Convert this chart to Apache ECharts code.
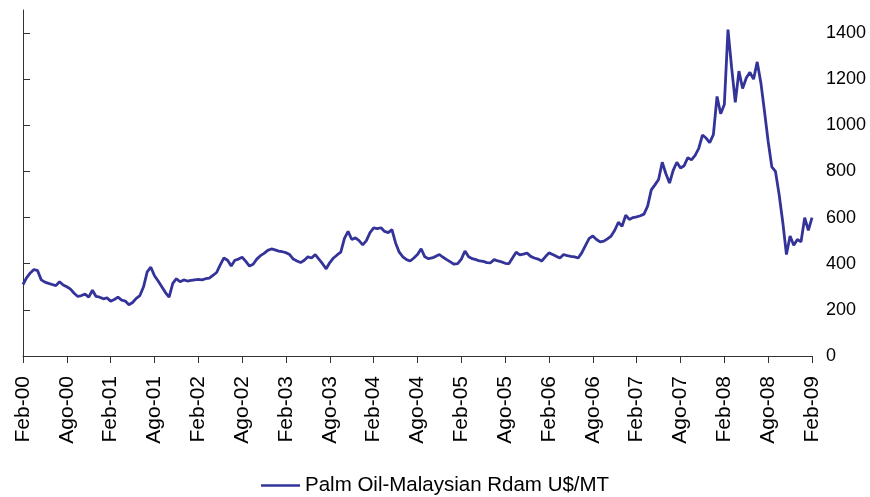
<!DOCTYPE html>
<html>
<head>
<meta charset="utf-8">
<title>Palm Oil</title>
<script src="https://cdn.jsdelivr.net/npm/echarts@6/dist/echarts.min.js"></script>
<style>
  html, body { margin: 0; padding: 0; background: #fff; }
  #main { width: 870px; height: 497px; }
</style>
</head>
<body>
<div id="main"></div>
<script>
// semimonthly readings, Feb-00 .. Feb-09 (US$/MT)
var seriesName = 'Palm Oil-Malaysian Rdam U$/MT';
var tickLabels = ['Feb-00', 'Ago-00', 'Feb-01', 'Ago-01', 'Feb-02', 'Ago-02', 'Feb-03', 'Ago-03', 'Feb-04', 'Ago-04',
  'Feb-05', 'Ago-05', 'Feb-06', 'Ago-06', 'Feb-07', 'Ago-07', 'Feb-08', 'Ago-08', 'Feb-09'];
var palmOil = [
  310, 340, 360, 375, 370, 330, 320, 315, 310, 305, 322, 308,
  300, 290, 272, 258, 262, 268, 255, 285, 258, 255, 248, 252,
  238, 245, 255, 242, 238, 222, 232, 250, 262, 300, 365, 385,
  348, 325, 300, 275, 255, 315, 335, 322, 330, 325, 328, 330,
  332, 330, 335, 338, 350, 362, 395, 425, 415, 390, 415, 420,
  428, 410, 390, 398, 420, 435, 445, 458, 464, 460, 455, 452,
  448, 440, 420, 412, 405, 415, 430, 425, 440, 420, 400, 378,
  405, 425, 438, 450, 510, 540, 505, 512, 500, 482, 500, 535,
  555, 552, 556, 540, 535, 548, 490, 450, 430, 418, 412, 425,
  440, 465, 430, 422, 425, 432, 440, 428, 418, 408, 398, 400,
  420, 455, 430, 422, 418, 412, 410, 405, 404, 418, 412, 408,
  402, 400, 425, 450, 438, 442, 446, 432, 425, 420, 412, 430,
  447, 440, 432, 425, 440, 435, 432, 430, 425, 448, 480, 510,
  520, 505, 495, 498, 508, 520, 545, 580, 562, 610, 592, 600,
  603, 608, 615, 650, 720, 742, 765, 840, 790, 750, 805, 840,
  815, 825, 860, 850, 870, 900, 958, 945, 925, 960, 1125, 1050,
  1090, 1415, 1250, 1100, 1235, 1160, 1205, 1230, 1200, 1275, 1185, 1060,
  930, 820, 800, 700, 580, 440, 520, 480, 505, 495, 600, 545,
  600
];
var pointsPerTick = 12; // 6 months, two readings a month

var myChart = echarts.init(document.getElementById('main'));
var option = {
  animation: false,
  grid: { left: 23, right: 58, top: 10, bottom: 141 },
  legend: {
    data: [{ name: seriesName, icon: 'rect' }],
    bottom: -4,
    left: 256,
    itemWidth: 39,
    itemHeight: 2.5,
    itemGap: 6,
    textStyle: { fontFamily: 'Liberation Sans, Arial', fontSize: 20.5, color: '#000' }
  },
  xAxis: {
    type: 'value',
    min: 0,
    max: palmOil.length - 1,
    interval: pointsPerTick,
    axisLine: { lineStyle: { color: '#333', width: 1 } },
    axisTick: { inside: false, length: 7, lineStyle: { color: '#333' } },
    splitLine: { show: false },
    axisLabel: {
      rotate: 90,
      margin: 20,
      fontFamily: 'Liberation Sans, Arial',
      fontSize: 21,
      color: '#000',
      formatter: function (v) { return tickLabels[Math.round(v / pointsPerTick)] || ''; }
    }
  },
  yAxis: {
    type: 'value',
    position: 'right',
    min: 0,
    max: 1500,
    interval: 200,
    axisLine: { show: true, lineStyle: { color: '#333', width: 1 } },
    axisTick: { show: true, inside: false, length: 7, lineStyle: { color: '#333' } },
    splitLine: { show: false },
    axisLabel: {
      margin: 14,
      fontFamily: 'Liberation Sans, Arial',
      fontSize: 18,
      color: '#000',
      showMaxLabel: false,
      formatter: function (v) { return v % 200 === 0 ? String(v) : ''; }
    }
  },
  series: [{
    name: seriesName,
    type: 'line',
    symbol: 'none',
    data: palmOil.map(function (v, i) { return [i, v]; }),
    lineStyle: { color: '#333399', width: 2.8 },
    itemStyle: { color: '#333399' }
  }]
};
myChart.setOption(option);
</script>
</body>
</html>
